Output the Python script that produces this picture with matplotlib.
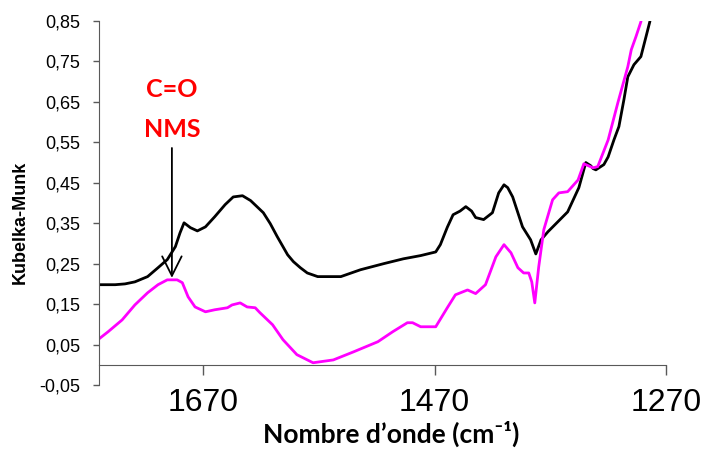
import numpy as np
import matplotlib
matplotlib.use("Agg")
import matplotlib.pyplot as plt

# nombre d'onde (cm-1) et Kubelka-Munk
wn_noir = [1760, 1746, 1737.5, 1729, 1718, 1709, 1701, 1694, 1690, 1686.5, 1681, 1675, 1668,
           1660, 1651, 1644, 1636, 1629, 1618, 1612, 1606, 1597, 1592, 1586, 1580, 1571,
           1551, 1534, 1514, 1497, 1482, 1469, 1465, 1459, 1454, 1448, 1443, 1438,
           1434.5, 1427.6, 1420, 1414.6, 1410, 1406.8, 1402.5, 1394, 1387, 1382.5, 1378,
           1372, 1355, 1345.3, 1339.3, 1335, 1333, 1330.6, 1323.7, 1320, 1315, 1310.7,
           1306.4, 1303, 1297.7, 1291.7, 1287.3, 1284, 1280]
km_noir = [0.198, 0.198, 0.200, 0.205, 0.218, 0.240, 0.260, 0.292, 0.326, 0.351, 0.339, 0.331, 0.341,
           0.366, 0.396, 0.415, 0.418, 0.406, 0.376, 0.349, 0.317, 0.272, 0.255, 0.240, 0.227, 0.218,
           0.218, 0.235, 0.250, 0.262, 0.270, 0.279, 0.297, 0.340, 0.371, 0.380, 0.391, 0.380,
           0.364, 0.359, 0.376, 0.425, 0.445, 0.438, 0.415, 0.341, 0.309, 0.274, 0.309,
           0.329, 0.378, 0.438, 0.500, 0.492, 0.485, 0.482, 0.495, 0.514, 0.556, 0.589,
           0.655, 0.712, 0.742, 0.762, 0.811, 0.848, 0.92]

wn_rose = [1760, 1752, 1740, 1729, 1718, 1709, 1701, 1692.5, 1688, 1683, 1677, 1668,
           1660, 1649, 1645, 1638, 1632, 1625, 1621, 1610, 1601, 1589, 1575, 1557.5,
           1540, 1519, 1506, 1493.5, 1489, 1482, 1469, 1459, 1452, 1441.5, 1434.5,
           1426, 1417, 1410, 1404, 1398, 1393, 1388.6, 1386, 1383.4, 1380, 1375.6,
           1368, 1362.6, 1355, 1346, 1341, 1333, 1329, 1320, 1311.6, 1303, 1300,
           1296, 1291.7, 1288]
km_rose = [0.064, 0.082, 0.111, 0.148, 0.178, 0.198, 0.210, 0.210, 0.203, 0.168, 0.143, 0.131,
           0.136, 0.141, 0.148, 0.153, 0.143, 0.141, 0.129, 0.099, 0.062, 0.025, 0.005, 0.012,
           0.032, 0.057, 0.082, 0.104, 0.104, 0.094, 0.094, 0.141, 0.173, 0.185, 0.176,
           0.198, 0.267, 0.297, 0.277, 0.240, 0.227, 0.227, 0.205, 0.153, 0.242, 0.334,
           0.408, 0.425, 0.428, 0.457, 0.497, 0.487, 0.490, 0.556, 0.648, 0.737, 0.779,
           0.811, 0.848, 0.92]

xticks = [1670, 1470, 1270]
yticks = np.round(np.arange(-0.05, 0.86, 0.1), 2)

fig = plt.figure(figsize=(7.01, 4.55), dpi=100)
ax = fig.add_axes([99/701, 70/455, 567/701, 364/455])

ax.plot(wn_noir, km_noir, color='black', lw=2.0, solid_joinstyle='round')
ax.plot(wn_rose, km_rose, color='#ff00ff', lw=2.0, solid_joinstyle='round')

ax.set_xlim(1760, 1270)
ax.set_ylim(-0.05, 0.85)

for s in ['top', 'right']:
    ax.spines[s].set_visible(False)
ax.spines['bottom'].set_position(('data', 0))
ax.spines['bottom'].set_color('#595959')
ax.spines['left'].set_color('#595959')

ax.set_xticks(xticks)
ax.set_xticklabels([str(t) for t in xticks], family='Liberation Sans', fontsize=23)
ax.set_yticks(yticks)
ax.set_yticklabels([f"{t:.2f}".replace('.', ',') for t in yticks],
                   family='Liberation Sans', fontsize=13)
ax.tick_params(axis='x', direction='out', length=7, width=1, color='#595959', pad=10)
ax.tick_params(axis='y', direction='out', length=4.5, width=1, color='#595959', pad=9)

# annotation C=O NMS
ax.text(1697, 0.680, 'C=O', color='red', fontsize=18, fontweight='bold',
        family='Lato', ha='center', va='center')
ax.text(1697, 0.581, 'NMS', color='red', fontsize=18, fontweight='bold',
        family='Lato', ha='center', va='center')
ax.annotate('', xy=(1697, 0.215), xytext=(1697, 0.536),
            arrowprops=dict(arrowstyle='->,head_length=0.7,head_width=0.35',
                            mutation_scale=20, lw=1.3, color='black',
                            shrinkA=0, shrinkB=0))

fig.text(20/701, 1 - 222/455, 'Kubelka-Munk', rotation=90, ha='center', va='center',
         family='Liberation Sans', fontweight='bold', fontsize=13)
fig.text(391/701, 1 - 443/455, 'Nombre d\u2019onde (cm\u207b\u00b9)', ha='center', va='baseline',
         family=['Lato', 'DejaVu Sans'], fontweight='bold', fontsize=19)

fig.savefig('out.png', dpi=100)
